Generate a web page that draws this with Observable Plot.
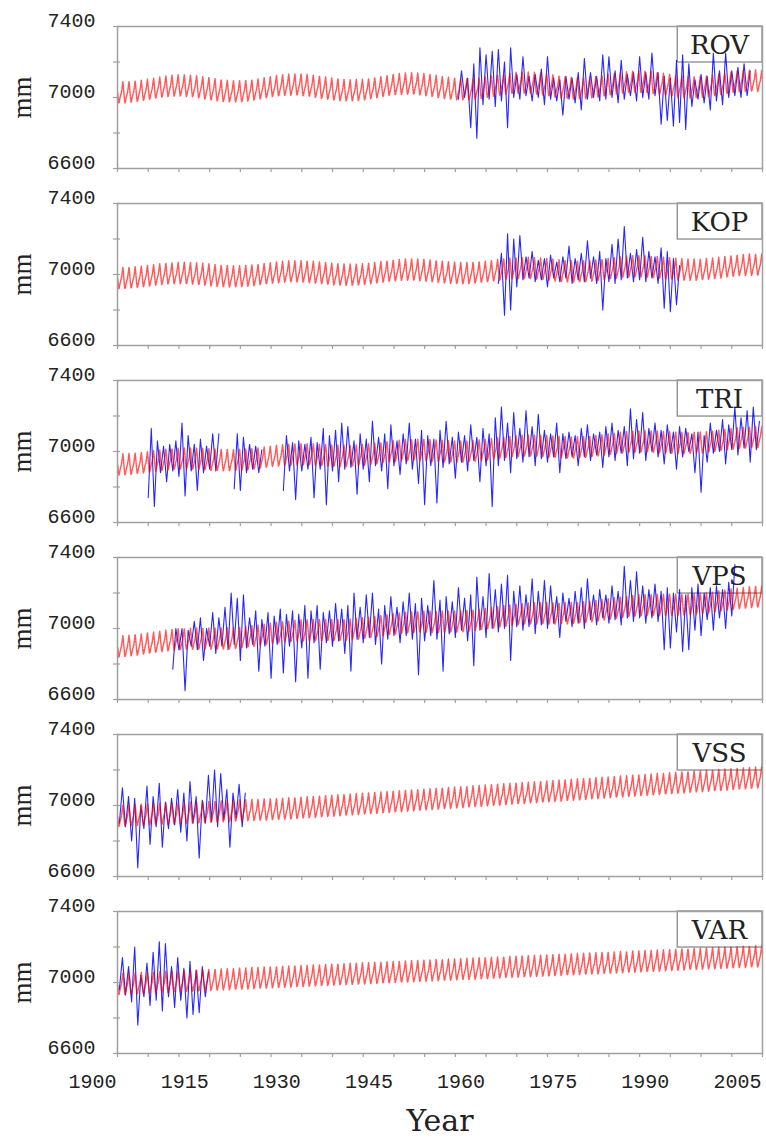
<!DOCTYPE html>
<html>
<head>
<meta charset="utf-8">
<script src="https://cdn.jsdelivr.net/npm/d3@7"></script>
<script src="https://cdn.jsdelivr.net/npm/@observablehq/plot@0.6"></script>
<style>
html, body { margin: 0; padding: 0; background: #fff; }
</style>
</head>
<body>
<div id="chart"></div>
<script>
// ---------- DATA ----------
const stations = ["ROV", "KOP", "TRI", "VPS", "VSS", "VAR"];

// model (red): annual mean level, one value per year from 1900 to 2005 (mm)
const redStart = 1900;
const redROV = [7027,7028,7031,7035,7041,7047,7054,7059,7063,7066,
  7066,7064,7061,7056,7050,7044,7039,7035,7033,7033,
  7034,7038,7043,7049,7055,7062,7066,7070,7071,7071,
  7068,7064,7059,7053,7048,7043,7040,7038,7039,7041,
  7045,7051,7057,7063,7069,7073,7076,7077,7076,7073,
  7068,7063,7057,7052,7047,7045,7044,7045,7048,7053,
  7059,7065,7071,7077,7080,7082,7082,7080,7077,7072,
  7066,7060,7055,7052,7050,7050,7052,7056,7061,7067,
  7073,7079,7084,7087,7088,7087,7085,7080,7075,7069,
  7064,7059,7056,7055,7056,7059,7063,7069,7075,7081,
  7087,7091,7093,7094,7092,7089];
const redKOP = [6978,6979,6981,6984,6989,6993,6998,7001,7004,7006,
  7007,7006,7004,7001,6998,6994,6991,6989,6988,6988,
  6989,6992,6995,7000,7004,7009,7012,7015,7016,7016,
  7015,7012,7009,7006,7002,6999,6997,6997,6997,6999,
  7002,7006,7011,7015,7019,7022,7025,7026,7025,7023,
  7020,7017,7013,7010,7008,7006,7006,7007,7010,7013,
  7017,7022,7026,7030,7033,7034,7035,7034,7031,7028,
  7025,7021,7018,7016,7015,7016,7017,7020,7024,7028,
  7033,7037,7041,7043,7044,7044,7042,7040,7036,7033,
  7030,7027,7025,7025,7025,7028,7031,7035,7039,7044,
  7048,7051,7053,7053,7053,7051];
const redTRI = [6925,6927,6929,6933,6937,6942,6947,6951,6954,6957,
  6958,6958,6957,6956,6954,6952,6950,6949,6949,6950,
  6952,6955,6959,6963,6968,6973,6976,6979,6981,6982,
  6982,6981,6979,6977,6975,6974,6973,6973,6975,6977,
  6981,6985,6989,6994,6998,7002,7005,7006,7007,7006,
  7005,7003,7001,6999,6997,6997,6998,7000,7003,7006,
  7011,7015,7020,7024,7027,7029,7031,7031,7030,7028,
  7026,7024,7022,7021,7021,7023,7025,7028,7032,7037,
  7041,7046,7050,7052,7054,7055,7054,7053,7051,7049,
  7047,7046,7046,7046,7048,7050,7054,7058,7063,7067,
  7072,7075,7077,7079,7079,7078];
const redVPS = [6897,6900,6904,6908,6913,6918,6923,6928,6932,6936,
  6938,6940,6941,6941,6941,6941,6941,6942,6943,6945,
  6949,6953,6957,6962,6968,6973,6977,6981,6984,6987,
  6988,6989,6989,6989,6989,6989,6990,6991,6994,6998,
  7002,7007,7012,7017,7022,7026,7030,7033,7035,7036,
  7036,7036,7036,7036,7036,7038,7040,7043,7047,7051,
  7056,7061,7067,7071,7075,7079,7081,7083,7083,7084,
  7083,7083,7084,7084,7086,7088,7092,7096,7101,7106,
  7111,7116,7120,7124,7127,7129,7130,7131,7131,7131,
  7131,7131,7132,7134,7137,7141,7145,7150,7155,7160,
  7165,7169,7173,7176,7177,7178];
const redVSS = [6940,6942,6943,6945,6946,6948,6949,6951,6952,6954,
  6955,6957,6958,6960,6961,6963,6964,6966,6967,6969,
  6970,6972,6973,6975,6976,6978,6979,6981,6982,6984,
  6987,6989,6991,6994,6996,6998,7000,7003,7005,7007,
  7010,7012,7014,7017,7019,7021,7023,7026,7028,7030,
  7033,7035,7037,7040,7042,7044,7046,7049,7051,7053,
  7056,7058,7060,7063,7065,7067,7069,7072,7074,7076,
  7079,7081,7083,7086,7088,7090,7092,7095,7097,7099,
  7102,7104,7106,7109,7111,7113,7115,7118,7120,7122,
  7125,7127,7129,7132,7134,7136,7138,7141,7143,7145,
  7148,7150,7152,7155,7157,7159];
const redVAR = [6990,6992,6993,6995,6996,6998,6999,7001,7002,7004,
  7005,7007,7008,7010,7011,7013,7014,7016,7017,7019,
  7020,7022,7023,7025,7026,7028,7029,7031,7032,7034,
  7035,7037,7038,7040,7041,7043,7044,7046,7047,7049,
  7050,7052,7053,7055,7056,7058,7059,7061,7062,7064,
  7065,7067,7068,7070,7071,7073,7074,7076,7077,7079,
  7080,7082,7083,7085,7086,7088,7089,7091,7092,7094,
  7095,7097,7098,7100,7101,7103,7104,7106,7107,7109,
  7110,7112,7113,7115,7116,7118,7119,7121,7122,7124,
  7125,7127,7128,7130,7131,7133,7134,7136,7137,7139,
  7140,7142,7143,7145,7146,7148];
// typical monthly offsets of the model (Jan..Dec, mm)
const season = [-5, -35, -58, -52, -35, -22, -10, 0, 18, 40, 62, 35];

// observations (blue): half-yearly low/high pairs, first value at blueStart
const blueStart = [1955.5, 1962, 1905, 1909, 1900.3, 1900.3];
const blueROV = [6990,7150, 7000,7110, 6830,7190, 6770,7280, 6960,7240, 6990,7260,
  6950,7270, 6980,7200, 6830,7280, 7000,7130, 6990,7230, 7010,7120,
  6980,7130, 7000,7160, 6960,7230, 6990,7110, 6980,7100, 6900,7120,
  6990,7110, 6970,7140, 6930,7220, 6990,7140, 7000,7120, 6980,7240,
  6990,7230, 7000,7150, 6970,7210, 6990,7130, 7010,7140, 6980,7230,
  7000,7140, 6990,7250, 7010,7140, 6850,7120, 6870,7110, 6840,7210,
  6860,7240, 6820,7190, 6950,7100, 6990,7130, 6970,7120, 6930,7250,
  6980,7150, 6960,7250, 7000,7150, 7010,7170, 7000,7190, 7010,7150];
const blueKOP = [6950,7120, 6770,7230, 6800,7200, 6930,7220, 6970,7100, 6980,7130,
  6960,7080, 6970,7090, 6930,7110, 6980,7070, 6960,7100, 6980,7160,
  6950,7090, 6970,7120, 6960,7190, 6980,7100, 6950,7130, 6800,7090,
  6960,7170, 6950,7200, 6970,7270, 6980,7120, 6960,7140, 6970,7210,
  6960,7130, 6980,7100, 6950,7150, 6810,7130, 6790,7090, 6830,7050];
const blueTRI = [6740,7130, 6690,7060, 6880,7030, 6830,7040, 6890,7060, 6860,7160,
  6750,7090, 6890,7040, 6780,7070, 6880,7030, 6900,7100, 6890,7100,
  null,null, null,null,
  6790,7100, 6780,7080, 6880,7040, 6900,7030, 6880,7010,
  null,null, null,null, null,null,
  6780,7090, 6890,7050, 6730,7060, 6890,7040, 6900,7080, 6740,7050,
  6900,7130, 6700,7090, 6890,7120, 6830,7160, 6900,7140, 6910,7060,
  6760,7100, 6900,7070, 6830,7170, 6920,7080, 6890,7100, 6790,7150,
  6920,7060, 6870,7100, 6930,7160, 6900,7070, 6820,7120, 6700,7090,
  6920,7070, 6710,7120, 6910,7170, 6930,7080, 6850,7110, 6940,7090,
  6890,7150, 6950,7080, 6830,7130, 6920,7100, 6690,7190, 6920,7250,
  6950,7160, 6880,7220, 6960,7130, 6940,7230, 6970,7140, 6920,7210,
  6960,7120, 6940,7100, 6970,7160, 6880,7100, 6960,7110, 6970,7090,
  6920,7130, 6970,7150, 6950,7100, 6980,7110, 6910,7140, 6970,7160,
  6950,7120, 6990,7140, 6920,7240, 6960,7180, 6990,7220, 6950,7130,
  7000,7160, 6970,7120, 6930,7150, 6990,7110, 6900,7140, 6970,7130,
  7000,7100, 6880,7110, 6770,7090, 6940,7160, 6990,7120, 7000,7180,
  6930,7150, 7010,7250, 6980,7190, 7020,7230, 6940,7250, 7010,7170];
const blueVPS = [6770,7000, 6880,7000, 6650,6990, 6900,7040, 6880,7060, 6820,7000,
  6900,7090, 6860,7060, 6900,7120, 6880,7200, 6910,7170, 6820,7190,
  6890,7060, 6910,7100, 6760,7050, 6900,7090, 6720,7070, 6910,7110,
  6750,7080, 6900,7100, 6700,7080, 6890,7130, 6720,7100, 6920,7130,
  6770,7090, 6920,7100, 6900,7140, 6930,7110, 6860,7130, 6760,7200,
  6940,7120, 6920,7190, 6950,7200, 6910,7110, 6800,7130, 6940,7180,
  6960,7120, 6920,7150, 6960,7200, 6940,7140, 6740,7170, 6930,7130,
  6960,7270, 6940,7160, 6760,7180, 6970,7150, 6950,7230, 6990,7170,
  6930,7190, 6790,7290, 6990,7180, 6950,7310, 7000,7220, 6980,7250,
  7000,7300, 6820,7210, 7010,7240, 6990,7190, 7010,7280, 6970,7210,
  7020,7270, 7000,7240, 7030,7180, 6950,7200, 7040,7170, 7010,7210,
  7030,7230, 7000,7280, 7050,7190, 7020,7220, 7060,7190, 7030,7240,
  7050,7210, 7020,7350, 7060,7270, 7040,7320, 7060,7240, 7030,7220,
  7060,7250, 7040,7210, 6880,7230, 6890,7200, 6980,7220, 6870,7190,
  6880,7230, 6990,7250, 6960,7200, 7050,7230, 6990,7240, 7060,7220,
  7000,7260, 7070,7360];
const blueVSS = [6900,7100, 6880,7050, 6800,7040, 6650,7000, 6870,7110, 6780,7050,
  6880,7125, 6765,7020, 6870,7040, 6890,7090, 6850,7070, 6800,7135,
  6900,7050, 6705,7030, 6900,7170, 6910,7200, 6880,7180, 6920,7090,
  6765,7070, 6930,7120, 6880,7070];
const blueVAR = [6960,7140, 6930,7090, 6890,7200, 6760,7040, 6920,7110, 6870,7170,
  6900,7230, 6840,7220, 6920,7090, 6860,7140, 6900,7080, 6800,7120,
  6820,7070, 6830,7090, 6920,7060];

// axes
const xTicks = [1900,1905,1910,1915,1920,1925,1930,1935,1940,1945,1950,1955,1960,1965,1970,1975,1980,1985,1990,1995,2000,2005];
const xLabels = [1900,1915,1930,1945,1960,1975,1990,2005];
const yTicks = [6600,6800,7000,7200,7400];
const yLabels = [6600,7000,7400];

// ---------- TABLES ----------
const redSeries = [redROV, redKOP, redTRI, redVPS, redVSS, redVAR];
const blueSeries = [blueROV, blueKOP, blueTRI, blueVPS, blueVSS, blueVAR];

const redRows = [];
stations.forEach((s, i) => {
  redSeries[i].forEach((v, j) => {
    season.forEach((o, m) => {
      redRows.push({station: s, t: redStart + j + (m + 0.5) / 12, v: v + o});
    });
  });
});
const blueRows = [];
stations.forEach((s, i) => {
  blueSeries[i].forEach((v, k) => {
    blueRows.push({station: s, t: blueStart[i] + k * 0.5, v: v == null ? NaN : v});
  });
});

// ---------- CHART ----------
const ink = "#222";
const axisGray = "#a0a0a0";
const chart = Plot.plot({
  width: 766,
  height: 1138,
  marginLeft: 117,
  marginRight: 4,
  marginTop: 24.5,
  marginBottom: 84,
  style: {fontFamily: "'Liberation Mono', monospace", color: ink, background: "#fff", overflow: "visible"},
  x: {domain: [1900, 2005], label: null},
  y: {domain: [6600, 7400], label: null},
  fy: {domain: stations, paddingInner: 0.2, paddingOuter: 0, axis: null, label: null},
  marks: [
    // station label box
    Plot.rect(stations, {fy: d => d, x1: 1991.2, x2: 2005, y1: 7197, y2: 7400,
      fill: "none", stroke: "#8a8a8a", strokeWidth: 1.3}),
    Plot.text(stations, {fy: d => d, text: d => d, frameAnchor: "top-right", dx: -43, dy: 19,
      textAnchor: "middle", fontFamily: "'DejaVu Serif', serif", fontSize: 26, fill: ink, lineAnchor: "middle"}),
    // y label
    Plot.text(stations, {fy: d => d, text: () => "mm", frameAnchor: "left", rotate: -90, dx: -95,
      textAnchor: "middle", fontFamily: "'Liberation Serif', serif", fontSize: 27, fill: ink, lineAnchor: "middle"}),
    // data
    Plot.line(blueRows, {x: "t", y: "v", fy: "station", stroke: "#0000ff", strokeWidth: 1.1,
      strokeOpacity: 0.85, clip: true}),
    Plot.line(redRows, {x: "t", y: "v", fy: "station", stroke: "#ff0000", strokeWidth: 1.5,
      strokeOpacity: 0.65, strokeDasharray: "2,1", clip: true}),
    // frame and axes
    Plot.frame({stroke: axisGray, strokeWidth: 1.5}),
    Plot.axisY(yTicks, {tickSize: 4, tickFormat: () => "", stroke: axisGray, strokeWidth: 1.2, label: null}),
    Plot.axisY(yTicks, {tickSize: -3, tickFormat: () => "", stroke: axisGray, strokeWidth: 1.2, label: null}),
    Plot.axisY(yLabels, {tickSize: 0, tickPadding: 22, dy: -6, fontSize: 20, fill: ink,
      tickFormat: d => String(d), label: null}),
    Plot.axisX(xTicks, {tickSize: 4, tickFormat: () => "", stroke: axisGray, strokeWidth: 1.2,
      facetAnchor: null, label: null}),
    Plot.axisX(xLabels, {tickSize: 0, tickPadding: 20.5, textAnchor: "end", dx: -1, fontSize: 20, fill: ink,
      tickFormat: d => String(d), label: null}),
    // x label
    Plot.text(["Year"], {text: d => d, frameAnchor: "bottom", dy: 68, fontFamily: "'DejaVu Serif', serif",
      fontSize: 30, fill: ink, lineAnchor: "middle", facetAnchor: "bottom"})
  ]
});
document.getElementById("chart").appendChild(chart);
</script>
</body>
</html>
